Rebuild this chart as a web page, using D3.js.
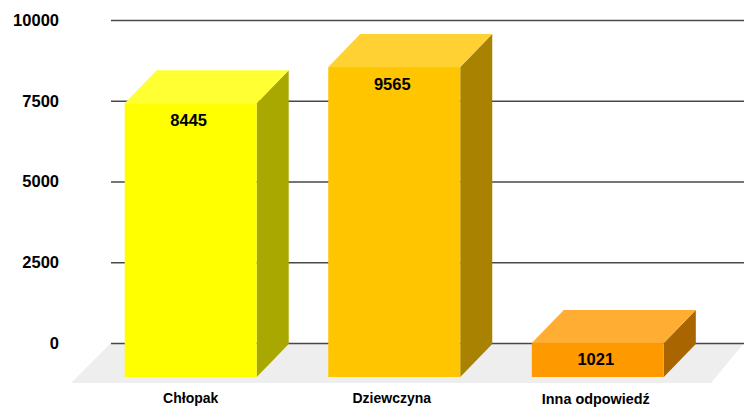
<!DOCTYPE html>
<html><head><meta charset="utf-8">
<script src="https://cdn.jsdelivr.net/npm/d3@7/dist/d3.min.js"></script>
<style>html,body{margin:0;padding:0;background:#fff}svg{display:block}text{font-family:"Liberation Sans",Arial,sans-serif;font-weight:bold;fill:#000}</style>
</head><body><svg id="c" width="744" height="409"></svg>
<script>
const categories = ["Chłopak", "Dziewczyna", "Inna odpowiedź"];
const values = [8445, 9565, 1021];
const frontColors = ["#ffff00", "#ffc600", "#ff9900"];
const topColors = ["#ffff33", "#ffd133", "#ffad33"];
const sideColors = ["#a8a800", "#a88200", "#a86500"];
const yTicks = [0, 2500, 5000, 7500, 10000];

const svg = d3.select("#c");
const dx = 32, dy = 33;
const y = d3.scaleLinear().domain([0, 10000]).range([343, 20]);
const x = d3.scaleBand().domain(categories).range([89.1, 699.4]).paddingInner(0.3515).paddingOuter(0.175);
const y0 = y(0);

svg.append("polygon").attr("fill", "#eeeeee")
  .attr("points", [[111, y0], [744, y0], [711, 383], [71, 383]].join(" "));

const axis = d3.axisLeft(y).tickValues(yTicks).tickSize(633).tickFormat(d3.format("d"));
const g = svg.append("g").attr("transform", "translate(744,0)").call(axis);
g.select(".domain").remove();
g.selectAll(".tick line").attr("stroke", "#484848").attr("stroke-width", 1.3);
g.selectAll(".tick text").attr("x", -685).attr("y", 0).attr("dy", "0.32em").attr("text-anchor", "end")
  .style("font-size", "16.5px").style("font-family", '"Liberation Sans",Arial,sans-serif').style("font-weight", "bold");

const bars = svg.selectAll("g.bar").data(categories).join("g").attr("class", "bar");
const bottom = y0 + dy + 1;
const bw = x.bandwidth();
const catShift = [0, -2.5, -2];
const catSize = ["14px", "14px", "14.4px"];
const valueShift = [17, 17, 16];
bars.each(function (c, i) {
  const s = d3.select(this), l = x(c), r = l + bw, t = y(values[i]) + dy;
  s.append("polygon").attr("fill", sideColors[i])
    .attr("points", [[r, t], [r + dx, t - dy], [r + dx, bottom - dy], [r, bottom]].join(" "));
  s.append("polygon").attr("fill", topColors[i])
    .attr("points", [[l, t], [l + dx, t - dy], [r + dx, t - dy], [r, t]].join(" "));
  s.append("rect").attr("x", l).attr("y", t).attr("width", bw).attr("height", bottom - t).attr("fill", frontColors[i]);
  s.append("text").attr("x", l + bw / 2 - 2).attr("y", t + valueShift[i]).attr("dy", "0.35em")
    .attr("text-anchor", "middle").style("font-size", "16.5px").text(d3.format("d")(values[i]));
  s.append("text").attr("x", l + bw / 2 + catShift[i]).attr("y", 398.5).attr("dy", "0.35em")
    .attr("text-anchor", "middle").style("font-size", catSize[i]).text(c);
});
</script></body></html>
